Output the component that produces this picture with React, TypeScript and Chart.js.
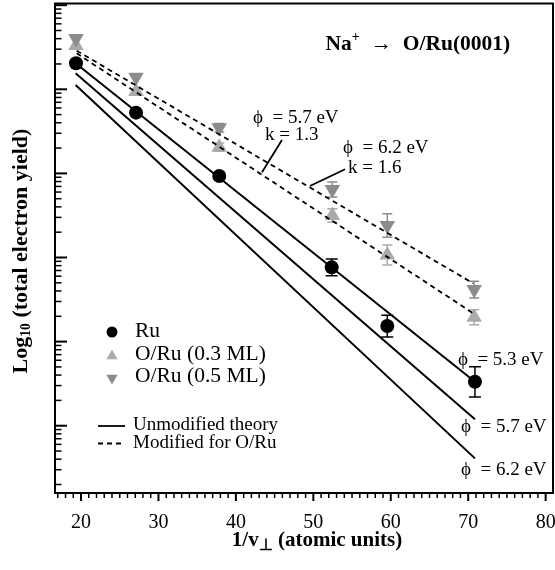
import React, { useEffect, useRef } from 'react';
import { Chart, registerables } from 'chart.js';
Chart.register(...registerables);

// ---- data (x: 1/v_perp in atomic units, y: total electron yield, arbitrary units) ----
const ruX = [19.35, 27.1, 37.85, 52.37, 59.55, 70.87];
const ruY = [20370, 5272, 931, 76.4, 15.3, 3.33];
const ruErr = [0, 0, 0, 0.1, 0.13, 0.18]; // half-width in decades

const o3X = [19.35, 27.1, 37.85, 52.45, 59.55, 70.77];
const o3Y = [33190, 9419, 2051, 316, 107, 19.5];
const o3Err = [0, 0, 0.05, 0.08, 0.12, 0.09];

const o5X = [19.35, 27.1, 37.85, 52.45, 59.55, 70.77];
const o5Y = [40180, 13930, 3483, 644, 240, 41.6];
const o5Err = [0, 0, 0.05, 0.09, 0.14, 0.1];

// theory lines (end points)
const theoryX = [19.3, 70.87];
const phi53Y = [20370, 3.33];
const phi57Y = [15490, 1.19];
const phi62Y = [11250, 0.409];

const modX = [19.44, 70.65];
const mod62Y = [28770, 49.3];
const mod57Y = [26790, 21.7];

const xMin = 16.64;
const xMax = 80.95;
const yMin = Math.pow(10, -0.8);
const yMax = Math.pow(10, 5.02);

const FAMILY = "'Liberation Serif', 'Times New Roman', serif";

type Seg = { t: string; scale?: number; dy?: number };

function drawRich(ctx: CanvasRenderingContext2D, segs: Seg[], x: number, y: number, align: 'left' | 'center', size: number, weight: string) {
  let w = 0;
  for (const s of segs) {
    ctx.font = `${weight} ${size * (s.scale || 1)}px ${FAMILY}`;
    w += ctx.measureText(s.t).width;
  }
  let cx = align === 'center' ? x - w / 2 : x;
  ctx.textAlign = 'left';
  ctx.textBaseline = 'middle';
  for (const s of segs) {
    ctx.font = `${weight} ${size * (s.scale || 1)}px ${FAMILY}`;
    ctx.fillText(s.t, cx, y + (s.dy || 0));
    cx += ctx.measureText(s.t).width;
  }
}

// annotations positioned in data units (x value, log10 of y)
const phiLabels = [
  { text: 'ϕ  = 5.7 eV', x: 42.2, ly: 3.656 },
  { text: 'k = 1.3', x: 43.75, ly: 3.456 },
  { text: 'ϕ  = 6.2 eV', x: 53.82, ly: 3.302 },
  { text: 'k = 1.6', x: 54.47, ly: 3.064 },
  { text: 'ϕ  = 5.3 eV', x: 68.67, ly: 0.781 },
  { text: 'ϕ  = 5.7 eV', x: 69.06, ly: -0.015 },
  { text: 'ϕ  = 6.2 eV', x: 69.06, ly: -0.527 },
];
const leaders = [
  { x1: 43.37, ly1: 3.014, x2: 45.95, ly2: 3.397 },
  { x1: 49.56, ly1: 2.85, x2: 54.1, ly2: 3.05 },
];

const LIGHT = '#aaaaaa';
const DARK = '#8c8c8c';

export default function App() {
  const ref = useRef<HTMLCanvasElement | null>(null);
  useEffect(() => {
    if (!ref.current) return;
    const pts = (xs: number[], ys: number[]) => xs.map((x, i) => ({ x, y: ys[i] }));

    const framePlugin = {
      id: 'frame',
      beforeDatasetsDraw(chart: any) {
        const ctx = chart.ctx;
        const ys = chart.scales.y;
        const xs = chart.scales.x;
        const bars = [
          { X: ruX, Y: ruY, E: ruErr, c: '#000000', w: 12 },
          { X: o3X, Y: o3Y, E: o3Err, c: LIGHT, w: 10 },
          { X: o5X, Y: o5Y, E: o5Err, c: DARK, w: 10 },
        ];
        ctx.save();
        for (const b of bars) {
          ctx.strokeStyle = b.c;
          ctx.lineWidth = 1.5;
          b.X.forEach((xv, i) => {
            const e = b.E[i];
            if (!e) return;
            const px = xs.getPixelForValue(xv);
            const hi = ys.getPixelForValue(b.Y[i] * Math.pow(10, e));
            const lo = ys.getPixelForValue(b.Y[i] / Math.pow(10, e));
            ctx.beginPath();
            ctx.moveTo(px, hi); ctx.lineTo(px, lo);
            ctx.moveTo(px - b.w / 2, hi); ctx.lineTo(px + b.w / 2, hi);
            ctx.moveTo(px - b.w / 2, lo); ctx.lineTo(px + b.w / 2, lo);
            ctx.stroke();
          });
        }
        ctx.restore();
      },
      afterDraw(chart: any) {
        const ctx = chart.ctx;
        const a = chart.chartArea;
        const xs = chart.scales.x;
        const ys = chart.scales.y;
        ctx.save();
        ctx.strokeStyle = '#000';
        ctx.fillStyle = '#000';
        // box
        ctx.lineWidth = 2;
        ctx.strokeRect(a.left, a.top, a.right - a.left, a.bottom - a.top);
        // y ticks (inward)
        for (const t of ys.ticks) {
          const py = ys.getPixelForValue(t.value);
          if (py < a.top - 0.5 || py > a.bottom + 0.5) continue;
          const major = Math.abs(Math.log10(t.value) - Math.round(Math.log10(t.value))) < 1e-6;
          ctx.lineWidth = major ? 2 : 1.5;
          ctx.beginPath();
          ctx.moveTo(a.left, py);
          ctx.lineTo(a.left + (major ? 12 : 6.5), py);
          ctx.stroke();
        }
        // x ticks (outward)
        for (const t of xs.ticks) {
          const px = xs.getPixelForValue(t.value);
          if (px < a.left || px > a.right) continue;
          const major = t.value % 10 === 0;
          ctx.lineWidth = major ? 2 : 1.5;
          ctx.beginPath();
          ctx.moveTo(px, a.bottom);
          ctx.lineTo(px, a.bottom + (major ? 8 : 5));
          ctx.stroke();
        }
        // annotations
        ctx.fillStyle = '#000';
        for (const l of phiLabels) {
          drawRich(ctx, [{ t: l.text }], xs.getPixelForValue(l.x), ys.getPixelForValue(Math.pow(10, l.ly)), 'left', 19, 'normal');
        }
        ctx.lineWidth = 1.8;
        for (const l of leaders) {
          ctx.beginPath();
          ctx.moveTo(xs.getPixelForValue(l.x1), ys.getPixelForValue(Math.pow(10, l.ly1)));
          ctx.lineTo(xs.getPixelForValue(l.x2), ys.getPixelForValue(Math.pow(10, l.ly2)));
          ctx.stroke();
        }
        drawRich(ctx, [{ t: 'Na' }, { t: '+', scale: 0.65, dy: -7 }, { t: '  →  O/Ru(0001)' }],
          xs.getPixelForValue(63.5), ys.getPixelForValue(Math.pow(10, 4.539)), 'center', 21.5, 'bold');

        // legend
        const lx = a.left + 57;
        const tx = a.left + 80;
        ctx.fillStyle = '#000';
        ctx.beginPath(); ctx.arc(lx, 332, 5.5, 0, Math.PI * 2); ctx.fill();
        const tri = (cx: number, cy: number, r: number, down: boolean, col: string) => {
          ctx.fillStyle = col;
          ctx.beginPath();
          const s = down ? -1 : 1;
          ctx.moveTo(cx, cy - s * r);
          ctx.lineTo(cx + r * 0.866, cy + s * r / 2);
          ctx.lineTo(cx - r * 0.866, cy + s * r / 2);
          ctx.closePath();
          ctx.fill();
        };
        tri(lx, 356, 6.5, false, LIGHT);
        tri(lx, 378, 6.5, true, DARK);
        ctx.fillStyle = '#000';
        drawRich(ctx, [{ t: 'Ru' }], tx, 331, 'left', 21.5, 'normal');
        drawRich(ctx, [{ t: 'O/Ru (0.3 ML)' }], tx, 354, 'left', 21.5, 'normal');
        drawRich(ctx, [{ t: 'O/Ru (0.5 ML)' }], tx, 376, 'left', 21.5, 'normal');
        ctx.lineWidth = 1.8;
        ctx.beginPath(); ctx.moveTo(a.left + 43, 426); ctx.lineTo(a.left + 70, 426); ctx.stroke();
        ctx.setLineDash([5, 4]);
        ctx.beginPath(); ctx.moveTo(a.left + 43, 443.5); ctx.lineTo(a.left + 70, 443.5); ctx.stroke();
        ctx.setLineDash([]);
        drawRich(ctx, [{ t: 'Unmodified theory' }], a.left + 78, 425, 'left', 19, 'normal');
        drawRich(ctx, [{ t: 'Modified for O/Ru' }], a.left + 78, 443, 'left', 19, 'normal');

        // axis titles
        drawRich(ctx, [{ t: '1/v' }, { t: '⊥', scale: 0.75, dy: 5 }, { t: ' (atomic units)' }], 317, 541, 'center', 21, 'bold');
        ctx.translate(21.5, 251);
        ctx.rotate(-Math.PI / 2);
        drawRich(ctx, [{ t: 'Log' }, { t: '10', scale: 0.62, dy: 5 }, { t: ' (total electron yield)' }], 0, 0, 'center', 22, 'bold');
        ctx.restore();
      },
    };

    const zeroPad = (s: any) => { s.paddingLeft = 0; s.paddingRight = 0; s.paddingTop = 0; s.paddingBottom = 0; };

    const chart = new Chart(ref.current, {
      type: 'scatter',
      data: {
        datasets: [
          { label: 'ϕ = 5.3 eV', data: pts(theoryX, phi53Y), showLine: true, borderColor: '#000', borderWidth: 2, pointRadius: 0 },
          { label: 'ϕ = 5.7 eV', data: pts(theoryX, phi57Y), showLine: true, borderColor: '#000', borderWidth: 2, pointRadius: 0 },
          { label: 'ϕ = 6.2 eV', data: pts(theoryX, phi62Y), showLine: true, borderColor: '#000', borderWidth: 2, pointRadius: 0 },
          { label: 'ϕ = 6.2 eV, k = 1.6', data: pts(modX, mod62Y), showLine: true, borderColor: '#000', borderWidth: 1.8, borderDash: [5, 4], pointRadius: 0 },
          { label: 'ϕ = 5.7 eV, k = 1.3', data: pts(modX, mod57Y), showLine: true, borderColor: '#000', borderWidth: 1.8, borderDash: [5, 4], pointRadius: 0 },
          { label: 'Ru', data: pts(ruX, ruY), pointStyle: 'circle', pointRadius: 7, backgroundColor: '#000', borderColor: '#000', borderWidth: 0 },
          { label: 'O/Ru (0.5 ML)', data: pts(o5X, o5Y), pointStyle: 'triangle', rotation: 180, pointRadius: 9, backgroundColor: DARK, borderColor: DARK, borderWidth: 0 },
          { label: 'O/Ru (0.3 ML)', data: pts(o3X, o3Y), pointStyle: 'triangle', pointRadius: 9, backgroundColor: LIGHT, borderColor: LIGHT, borderWidth: 0 },
        ],
      },
      options: {
        animation: false,
        responsive: true,
        maintainAspectRatio: false,
        layout: { autoPadding: false, padding: { left: 0, right: 2, top: 3.5, bottom: 0 } },
        plugins: { legend: { display: false }, tooltip: { enabled: false }, title: { display: false } },
        scales: {
          x: {
            type: 'linear',
            min: xMin,
            max: xMax,
            grid: { display: false, drawTicks: false },
            border: { display: false },
            afterBuildTicks: (s: any) => {
              const t = [];
              for (let v = Math.ceil(xMin); v <= Math.floor(xMax); v++) t.push({ value: v });
              s.ticks = t;
            },
            afterFit: (s: any) => { s.height = 77; zeroPad(s); },
            ticks: {
              autoSkip: false,
              maxRotation: 0,
              padding: 18,
              color: '#000',
              font: { family: FAMILY, size: 20 },
              callback: (v: any) => (Number(v) % 10 === 0 ? String(v) : ''),
            },
          },
          y: {
            type: 'logarithmic',
            min: yMin,
            max: yMax,
            grid: { display: false, drawTicks: false },
            border: { display: false },
            afterBuildTicks: (s: any) => {
              const t = [];
              for (let e = -1; e <= 5; e++) {
                for (let k = 1; k <= 9; k++) {
                  const v = k * Math.pow(10, e);
                  if (v >= yMin && v <= yMax) t.push({ value: v });
                }
              }
              s.ticks = t;
            },
            afterFit: (s: any) => { s.width = 55; zeroPad(s); },
            ticks: { display: false },
          },
        },
      },
      plugins: [framePlugin],
    } as any);
    return () => chart.destroy();
  }, []);

  return (
    <div style={{ position: 'fixed', left: 0, top: 0, width: 555, height: 570, background: '#fff' }}>
      <canvas ref={ref} />
    </div>
  );
}
